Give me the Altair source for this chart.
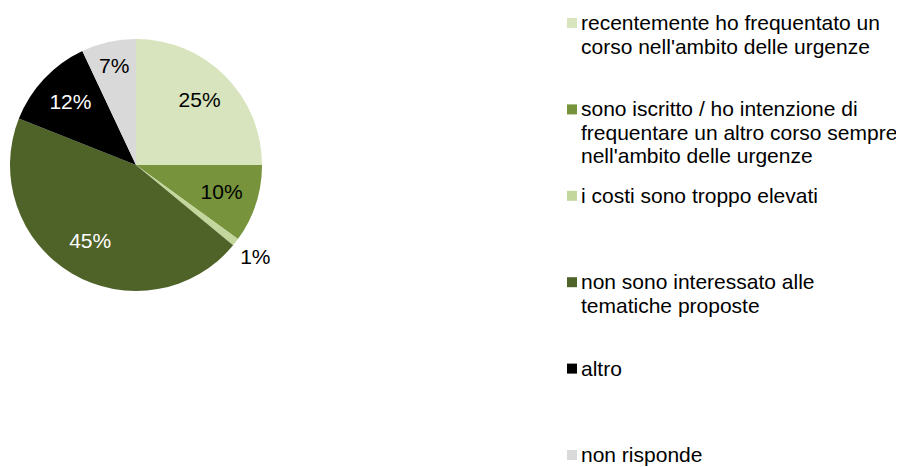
import altair as alt
import pandas as pd

categories = [
    "recentemente ho frequentato un\ncorso nell'ambito delle urgenze",
    "sono iscritto / ho intenzione di\nfrequentare un altro corso sempre\nnell'ambito delle urgenze",
    "i costi sono troppo elevati",
    "non sono interessato alle\ntematiche proposte",
    "altro",
    "non risponde",
]
values = [25, 10, 1, 45, 12, 7]
colors = ["#d7e4bd", "#77933c", "#c3d69b", "#4f6228", "#000000", "#d9d9d9"]

FONT = "Liberation Sans"

pie_df = pd.DataFrame({"cat": categories, "value": values, "idx": list(range(len(values)))})

rows = []
for i, c in enumerate(categories):
    for j, line in enumerate(c.split("\n")):
        rows.append({"cat": c, "idx": i, "line": j, "text": line})
leg_df = pd.DataFrame(rows)

CX, CY, R = 128, 157, 126
theta_scale = alt.Scale(domain=[0, 100])

color_scale = alt.Scale(domain=categories, range=colors)

arcs = alt.Chart(pie_df).mark_arc(outerRadius=R).encode(
    theta=alt.Theta("value:Q", stack=True, scale=theta_scale),
    color=alt.Color("cat:N", scale=color_scale, legend=None),
    order=alt.Order("idx:Q"),
    x=alt.value(CX),
    y=alt.value(CY),
)

labels = alt.Chart(pie_df).transform_window(
    cum="sum(value)", sort=[alt.SortField("idx", order="ascending")]
).transform_calculate(
    mid="datum.cum - datum.value / 2",
    label="datum.value + '%'",
    lr="datum.value < 2 ? 151 : (datum.value < 8 ? 100 : 90)",
).mark_text(font=FONT, fontSize=21, align="center", baseline="middle").encode(
    theta=alt.Theta("mid:Q", stack=None, scale=theta_scale),
    radius=alt.Radius("lr:Q", scale=None),
    text="label:N",
    color=alt.condition("datum.idx == 3 || datum.idx == 4", alt.value("white"), alt.value("black")),
    x=alt.value(CX),
    y=alt.value(CY),
)

yscale = alt.Scale(domain=[0, 5], range=[15, 447], nice=False, zero=False)

squares = alt.Chart(leg_df).transform_filter("datum.line == 0").mark_square(size=100, opacity=1).encode(
    x=alt.value(564),
    y=alt.Y("idx:Q", scale=yscale, axis=None),
    color=alt.Color("cat:N", scale=color_scale, legend=None),
)

leg_text = alt.Chart(leg_df).transform_calculate(
    pos="datum.idx + datum.line * 0.272"
).mark_text(
    font=FONT, fontSize=21, align="left", baseline="middle", color="black", dy=1
).encode(
    x=alt.value(573),
    y=alt.Y("pos:Q", scale=yscale, axis=None),
    text="text:N",
)

chart = alt.layer(arcs, labels, squares, leg_text).properties(
    width=888,
    height=458,
    padding=0,
    autosize=alt.AutoSizeParams(type="none"),
).configure_view(stroke=None)

chart.save("out.html", embed_options={"renderer": "svg", "actions": False})
